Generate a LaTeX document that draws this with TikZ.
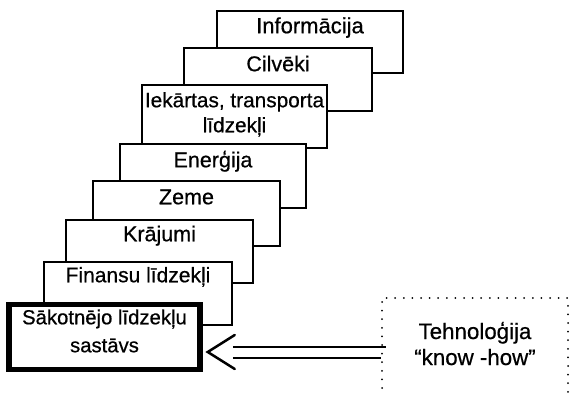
\documentclass[tikz,border=0pt]{standalone}
\usepackage{fontspec}
\setmainfont[FakeBold=0.6]{Liberation Sans}
\usetikzlibrary{calc}
\begin{document}
\begin{tikzpicture}[x=1pt,y=-1pt,
  stepbox/.style={draw=black, line width=1.5pt, fill=white, rectangle, inner sep=0pt, minimum width=187pt, minimum height=63pt},
  mainbox/.style={draw=black, line width=5.5pt, fill=white, rectangle, inner sep=0pt, minimum width=191pt, minimum height=65pt},
  techbox/.style={draw=black, line width=2pt, dash pattern=on 0pt off 8.6pt, line cap=round, rectangle, inner sep=0pt, minimum width=186pt, minimum height=140pt},
  lbl/.style={font=\fontsize{21.5}{25}\selectfont, anchor=base, inner sep=0pt, align=center},
  conn/.style={line width=2pt},
  barb/.style={line width=2.5pt, line cap=round}
]
\useasboundingbox (0,0) rectangle (570,393);
\fill[white] (0,0) rectangle (570,393);
\clip (0,0) rectangle (570,393);

\node[stepbox, minimum width=186pt, minimum height=62pt] (b1) at (310,42) {};
\node[lbl, font=\fontsize{22}{25}\selectfont] (t1) at ($(b1.north)+(0,23)$) {Informācija};

\node[stepbox, minimum width=188pt] (b2) at (278,79.5) {};
\node[lbl] (t2) at ($(b2.north)+(0,24)$) {Cilvēki};

\node[stepbox, minimum width=185pt] (b3) at (234.5,116.5) {};
\node[lbl, font=\fontsize{20.8}{25}\selectfont] (t3) at ($(b3.north)+(0,48)$) {Iekārtas, transporta\\līdzekļi};

\node[stepbox, minimum width=186pt, minimum height=64pt] (b4) at (213,176) {};
\node[lbl] (t4) at ($(b4.north)+(0,24)$) {Enerģija};

\node[stepbox, minimum height=65pt] (b5) at (186.5,213.5) {};
\node[lbl] (t5) at ($(b5.north)+(0,24)$) {Zeme};

\node[stepbox] (b6) at (159.5,251.5) {};
\node[lbl] (t6) at ($(b6.north)+(0,22)$) {Krājumi};

\node[stepbox, minimum width=188pt] (b7) at (138,293.5) {};
\node[lbl, font=\fontsize{21}{25}\selectfont] (t7) at ($(b7.north)+(0,21)$) {Finansu līdzekļi};

\node[mainbox] (b8) at (104.5,337) {};
\node[lbl, font=\fontsize{20.3}{28}\selectfont] (t8) at ($(b8.north)+(0,50.5)$) {Sākotnējo līdzekļu\\sastāvs};

\node[techbox] (tech) at (475,368) {};
\node[lbl, font=\fontsize{22.3}{26}\selectfont] (tt) at ($(tech.north)+(0,68)$) {Tehnoloģija\\“know -how”};

\coordinate (tip) at ($(b8.east)+(5,15)$);
\draw[conn] ($(tip)+(25,-5)$) -- ($(tech.west |- tip)+(5,-5)$);
\draw[conn] ($(tip)+(25,6)$) -- ($(tech.west |- tip)+(0,6)$);
\draw[barb] ($(tip)+(27,-17)$) -- (tip) -- ($(tip)+(27,17)$);
\end{tikzpicture}
\end{document}
